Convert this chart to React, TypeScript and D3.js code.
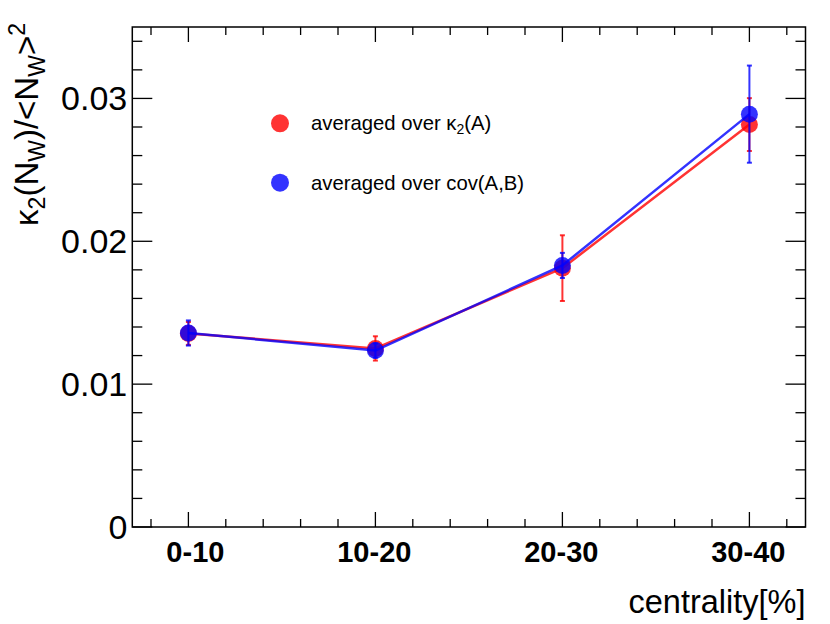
import React, { useEffect, useRef } from 'react';
import * as d3 from 'd3';

// centrality bins
const categories = ['0-10', '10-20', '20-30', '30-40'];
const binCentres = [5, 15, 25, 35];

// kappa2(N_W)/<N_W>^2, averaged over kappa2(A)
const kappaValues = [0.01355, 0.0125, 0.01812, 0.02817];
const kappaErrors = [0.0008, 0.00085, 0.0023, 0.00185];

// averaged over cov(A,B)
const covValues = [0.01358, 0.01235, 0.01831, 0.0289];
const covErrors = [0.00088, 0.0005, 0.00088, 0.0034];

const yMajorTicks = [0, 0.01, 0.02, 0.03];
const yTickLabels = ['0', '0.01', '0.02', '0.03'];

const RED = 'rgba(255,0,0,0.8)';
const BLUE = 'rgba(0,0,255,0.8)';
const FONT = '"Liberation Sans", Arial, Helvetica, sans-serif';

const App: React.FC = () => {
  const svgRef = useRef<SVGSVGElement>(null);

  useEffect(() => {
    if (!svgRef.current) return;
    const svg = d3.select(svgRef.current);
    svg.selectAll('*').remove();

    const left = 132.3, right = 805.5, top = 27, bottom = 527;

    const x = d3.scaleLinear().domain([2, 38]).range([left, right]);
    const y = d3.scaleLinear().domain([0, 0.035]).range([bottom, top]);

    // frame
    svg.append('rect')
      .attr('x', left).attr('y', top)
      .attr('width', right - left).attr('height', bottom - top)
      .attr('fill', 'none').attr('stroke', '#000').attr('stroke-width', 1.5);

    // x ticks (bottom + top), minor every 2 units
    const xTicks = d3.range(3, 38, 2);
    xTicks.forEach(t => {
      const major = binCentres.includes(t);
      const len = major ? 15 : 8;
      svg.append('line').attr('x1', x(t)).attr('x2', x(t))
        .attr('y1', bottom).attr('y2', bottom - len)
        .attr('stroke', '#000').attr('stroke-width', 1.3);
      svg.append('line').attr('x1', x(t)).attr('x2', x(t))
        .attr('y1', top).attr('y2', top + len)
        .attr('stroke', '#000').attr('stroke-width', 1.3);
    });

    // y ticks (left + right), minor every 0.002
    const yTicks = d3.range(0, 17.5).map(i => i * 0.002);
    yTicks.forEach(t => {
      const major = yMajorTicks.some(m => Math.abs(m - t) < 1e-9);
      const len = major ? 20 : 10;
      svg.append('line').attr('x1', left).attr('x2', left + len)
        .attr('y1', y(t)).attr('y2', y(t))
        .attr('stroke', '#000').attr('stroke-width', 1.3);
      svg.append('line').attr('x1', right).attr('x2', right - len)
        .attr('y1', y(t)).attr('y2', y(t))
        .attr('stroke', '#000').attr('stroke-width', 1.3);
    });

    // y tick labels
    yMajorTicks.forEach((t, i) => {
      svg.append('text')
        .attr('x', left - 5).attr('y', y(t) + 12)
        .attr('text-anchor', 'end')
        .attr('font-family', FONT).attr('font-size', 34)
        .text(yTickLabels[i]);
    });

    // x category labels
    categories.forEach((c, i) => {
      svg.append('text')
        .attr('x', x(binCentres[i]) + 36).attr('y', 562)
        .attr('text-anchor', 'end')
        .attr('font-family', FONT).attr('font-size', 29).attr('font-weight', 'bold')
        .text(c);
    });

    // x title
    svg.append('text')
      .attr('x', right).attr('y', 613)
      .attr('text-anchor', 'end')
      .attr('font-family', FONT).attr('font-size', 32.5)
      .text('centrality[%]');

    // y title
    const yt = svg.append('text')
      .attr('transform', `translate(38, ${top - 4}) rotate(-90)`)
      .attr('text-anchor', 'end')
      .attr('font-family', FONT).attr('font-size', 33);
    yt.append('tspan').text('κ');
    yt.append('tspan').attr('font-size', 23).attr('dy', 7).text('2');
    yt.append('tspan').attr('dy', -7).text('(N');
    yt.append('tspan').attr('font-size', 23).attr('dy', 7).text('W');
    yt.append('tspan').attr('dy', -7).text(')/<N');
    yt.append('tspan').attr('font-size', 23).attr('dy', 7).text('W');
    yt.append('tspan').attr('dy', -7).text('>');
    yt.append('tspan').attr('font-size', 23).attr('dy', -13).text('2');

    // series
    const drawSeries = (vals: number[], errs: number[], color: string) => {
      const pts = vals.map((v, i) => [x(binCentres[i]), y(v)] as [number, number]);
      svg.append('path')
        .attr('d', d3.line()(pts))
        .attr('fill', 'none').attr('stroke', color).attr('stroke-width', 2.5);
      const g = svg.append('g');
      vals.forEach((v, i) => {
        const cx = x(binCentres[i]);
        g.append('line').attr('x1', cx).attr('x2', cx)
          .attr('y1', y(v - errs[i])).attr('y2', y(v + errs[i]))
          .attr('stroke', color).attr('stroke-width', 2);
        [v - errs[i], v + errs[i]].forEach(e => {
          g.append('line').attr('x1', cx - 2.5).attr('x2', cx + 2.5)
            .attr('y1', y(e)).attr('y2', y(e))
            .attr('stroke', color).attr('stroke-width', 2);
        });
      });
      svg.append('g').selectAll('circle').data(vals).join('circle')
        .attr('cx', (_, i) => x(binCentres[i]))
        .attr('cy', d => y(d))
        .attr('r', 8.5)
        .attr('fill', color);
    };

    drawSeries(kappaValues, kappaErrors, RED);
    drawSeries(covValues, covErrors, BLUE);

    // legend
    const legend = [
      { label: 'averaged over κ', sub: '2', tail: '(A)', color: RED, yy: 123.3 },
      { label: 'averaged over cov(A,B)', sub: '', tail: '', color: BLUE, yy: 182.7 },
    ];
    legend.forEach(l => {
      svg.append('circle').attr('cx', 280).attr('cy', l.yy).attr('r', 9).attr('fill', l.color);
      const t = svg.append('text')
        .attr('x', 311).attr('y', l.yy + 7)
        .attr('font-family', FONT).attr('font-size', 20.3);
      t.append('tspan').text(l.label);
      if (l.sub) {
        t.append('tspan').attr('font-size', 14).attr('dy', 4).text(l.sub);
        t.append('tspan').attr('dy', -4).text(l.tail);
      }
    });
  }, []);

  return (
    <svg
      ref={svgRef}
      width={830}
      height={624}
      viewBox="0 0 830 624"
      style={{ position: 'absolute', left: 0, top: 0, background: '#fff' }}
    />
  );
};

export default App;
